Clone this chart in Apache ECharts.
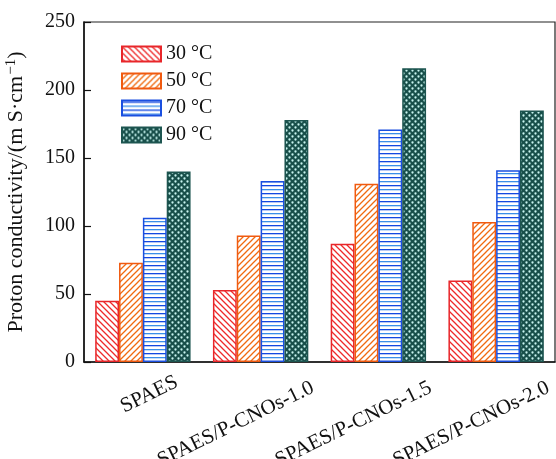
<!DOCTYPE html>
<html>
<head>
<meta charset="utf-8">
<script src="https://cdn.jsdelivr.net/npm/echarts@6/dist/echarts.min.js"></script>
<style>
html,body{margin:0;padding:0;background:#fff;}
#chart{width:556px;height:459px;}
</style>
</head>
<body>
<div id="chart"></div>
<script>
const categories = ['SPAES', 'SPAES/P-CNOs-1.0', 'SPAES/P-CNOs-1.5', 'SPAES/P-CNOs-2.0'];
const seriesNames = ['30 °C', '50 °C', '70 °C', '90 °C'];
const values30 = [45, 53, 87, 60];
const values50 = [73, 93, 131, 103];
const values70 = [106, 133, 171, 141];
const values90 = [140, 178, 216, 185];
const yTicks = [0, 50, 100, 150, 200, 250];

const FONT = "'Liberation Serif','Times New Roman',serif";

function tile(w, h, draw) {
  const c = document.createElement('canvas');
  c.width = w; c.height = h;
  const ctx = c.getContext('2d');
  draw(ctx, w, h);
  return { image: c, repeat: 'repeat' };
}
function diag(color, dir) {
  return tile(6, 6, (ctx, w, h) => {
    ctx.fillStyle = '#fff'; ctx.fillRect(0, 0, w, h);
    ctx.strokeStyle = color; ctx.lineWidth = 1.3;
    ctx.beginPath();
    if (dir > 0) {
      ctx.moveTo(-1, -1); ctx.lineTo(w + 1, h + 1);
      ctx.moveTo(-1, h - 1); ctx.lineTo(1, h + 1);
      ctx.moveTo(w - 1, -1); ctx.lineTo(w + 1, 1);
    } else {
      ctx.moveTo(-1, h + 1); ctx.lineTo(w + 1, -1);
      ctx.moveTo(-1, 1); ctx.lineTo(1, -1);
      ctx.moveTo(w - 1, h + 1); ctx.lineTo(w + 1, h - 1);
    }
    ctx.stroke();
  });
}
const pat30 = diag('#ee2a2a', 1);
const pat50 = diag('#f06a10', -1);
const pat70 = tile(8, 8, (ctx, w, h) => {
  ctx.fillStyle = '#fff'; ctx.fillRect(0, 0, w, h);
  ctx.fillStyle = '#1248e0'; ctx.fillRect(0, 1, w, 1.3);
  ctx.fillStyle = '#3a8ee8'; ctx.fillRect(0, 5, w, 1.3);
});
const pat90 = tile(6, 6, (ctx, w, h) => {
  ctx.fillStyle = '#184f4a'; ctx.fillRect(0, 0, w, h);
  ctx.fillStyle = '#c8f4ef';
  ctx.beginPath(); ctx.arc(1.5, 1.5, 1.15, 0, Math.PI * 2); ctx.fill();
  ctx.beginPath(); ctx.arc(4.5, 4.5, 1.15, 0, Math.PI * 2); ctx.fill();
});

const patterns = [pat30, pat50, pat70, pat90];
const borders = ['#e8262a', '#f05a10', '#1a4fe0', '#1d5550'];
const allValues = [values30, values50, values70, values90];

const chart = echarts.init(document.getElementById('chart'), null, { renderer: 'canvas' });
chart.setOption({
  backgroundColor: '#fff',
  animation: false,
  grid: { left: 84, right: 1, top: 22, bottom: 97, show: true, borderColor: '#222', borderWidth: 1.2, containLabel: false, outerBoundsMode: 'none' },
  legend: {
    data: seriesNames.map(n => ({ name: n, icon: 'rect' })),
    orient: 'vertical',
    left: 116, top: 39,
    itemWidth: 39, itemHeight: 15, itemGap: 7,
    textStyle: { fontFamily: FONT, fontSize: 20, color: '#111', padding: [0, 0, 0, 0] }
  },
  xAxis: {
    type: 'category',
    data: categories,
    axisLine: { lineStyle: { color: '#111', width: 1.5 } },
    axisTick: { show: false },
    axisLabel: {
      rotate: 26, margin: 50, fontFamily: FONT, fontSize: 21, color: '#111', padding: [0, -58, 0, 0],
      formatter: (v, i) => i === 0 ? '{s|' + v + '}' : '{n|' + v + '}',
      rich: {
        s: { fontFamily: FONT, fontSize: 21, color: '#111', padding: [0, 14, 26, 0] },
        n: { fontFamily: FONT, fontSize: 21, color: '#111' }
      }
    }
  },
  yAxis: {
    type: 'value',
    min: yTicks[0], max: yTicks[yTicks.length - 1], interval: 50,
    name: '{a|Proton conductivity/(m S·cm}{s|−1}{a|)}',
    nameLocation: 'middle', nameGap: 56, nameRotate: 90,
    nameTextStyle: {
      rich: {
        a: { fontFamily: FONT, fontSize: 22, color: '#111' },
        s: { fontFamily: FONT, fontSize: 15, color: '#111', verticalAlign: 'top', padding: [0, 0, 9, 1] }
      }
    },
    axisLine: { show: true, lineStyle: { color: '#111', width: 1.5 } },
    axisTick: { show: true, inside: true, length: 7, lineStyle: { color: '#111', width: 1.2 } },
    splitLine: { show: false },
    axisLabel: { margin: 9, fontFamily: FONT, fontSize: 20, color: '#111' }
  },
  series: allValues.map((vals, i) => ({
    name: seriesNames[i],
    type: 'bar',
    data: vals,
    barGap: '0%',
    barCategoryGap: '19%',
    itemStyle: { color: patterns[i], borderColor: borders[i], borderWidth: 1.5 }
  }))
});
</script>
</body>
</html>
